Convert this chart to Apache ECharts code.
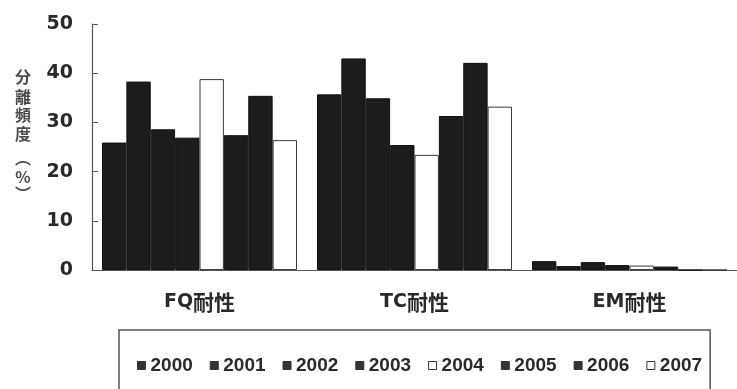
<!DOCTYPE html>
<html>
<head>
<meta charset="utf-8">
<script src="https://cdn.jsdelivr.net/npm/echarts@6/dist/echarts.min.js"></script>
<style>
  html, body { margin: 0; padding: 0; background: #fff; }
  #chart { width: 737px; height: 389px; }
</style>
</head>
<body>
<div id="chart"></div>
<script>
// Resistance categories (x axis)
const categories = ['FQ耐性', 'TC耐性', 'EM耐性'];
// Isolation frequency (%) per year, one value per category
const years = ['2000', '2001', '2002', '2003', '2004', '2005', '2006', '2007'];
const y2000 = [25.9, 35.7, 1.8];
const y2001 = [38.3, 43.0, 0.8];
const y2002 = [28.6, 34.9, 1.6];
const y2003 = [26.9, 25.4, 1.0];
const y2004 = [38.8, 23.4, 0.9];
const y2005 = [27.4, 31.3, 0.7];
const y2006 = [35.4, 42.1, 0];
const y2007 = [26.4, 33.2, 0];
const yearValues = [y2000, y2001, y2002, y2003, y2004, y2005, y2006, y2007];
// years drawn as hollow bars
const hollowYears = ['2004', '2007'];
const yTicks = [0, 10, 20, 30, 40, 50];
// vertical axis title, one glyph per line
const yTitleChars = ['分', '離', '頻', '度', '︵', '%', '︶'];

const NUM_FONT = '"DejaVu Sans", "Noto Sans CJK JP", sans-serif';
const LEG_FONT = '"Liberation Sans", Arial, sans-serif';
const CJK_FONT = '"Noto Sans CJK JP", sans-serif';
const DARK = '#1c1c1c';
const TEXT = '#2a2a2a';

const series = years.map((yr, i) => {
  const hollow = hollowYears.includes(yr);
  return {
    name: yr,
    type: 'bar',
    data: yearValues[i],
    barGap: '0%',
    barCategoryGap: '9.3%',
    itemStyle: {
      color: hollow ? '#ffffff' : DARK,
      borderColor: hollow ? '#3a3a3a' : '#111',
      borderWidth: 1
    }
  };
});

// y title glyph centres (px)
const yTitleCentres = [76.5, 96.5, 115, 133.5, 158, 177, 194];
const titleGraphics = yTitleChars.map((ch, i) => ({
  type: 'text',
  x: 23,
  y: yTitleCentres[i],
  style: {
    text: ch,
    fontFamily: CJK_FONT,
    fontSize: 16,
    fontWeight: 'bold',
    align: 'center',
    verticalAlign: 'middle',
    fill: '#4a4a4a'
  }
}));

const chart = echarts.init(document.getElementById('chart'), null, { renderer: 'canvas' });
chart.setOption({
  backgroundColor: '#ffffff',
  animation: false,
  grid: { left: 92, top: 24, width: 648, bottom: 119, containLabel: false },
  xAxis: {
    type: 'category',
    data: categories,
    axisLine: { lineStyle: { color: '#555', width: 1.2 } },
    axisTick: { inside: true, length: 4, lineStyle: { color: '#555' } },
    axisLabel: {
      margin: 22,
      formatter: v => `{a|${v.slice(0, 2)}}{b|${v.slice(2)}}`,
      rich: {
        a: { fontFamily: NUM_FONT, fontSize: 19, fontWeight: 'bold', color: TEXT },
        b: { fontFamily: CJK_FONT, fontSize: 21, fontWeight: 'bold', color: TEXT }
      }
    }
  },
  yAxis: {
    type: 'value',
    min: yTicks[0],
    max: yTicks[yTicks.length - 1],
    interval: 10,
    splitLine: { show: false },
    axisLine: { show: true, lineStyle: { color: '#555', width: 1.2 } },
    axisTick: { show: true, inside: true, length: 6, lineStyle: { color: '#555' } },
    axisLabel: {
      margin: 19,
      fontFamily: NUM_FONT,
      fontSize: 19,
      fontWeight: 'bold',
      color: TEXT
    }
  },
  legend: {
    data: years.map(yr => ({
      name: yr,
      icon: 'rect',
      itemStyle: hollowYears.includes(yr)
        ? { color: '#fff', borderColor: '#333', borderWidth: 1 }
        : { color: '#333', borderColor: '#333', borderWidth: 1 }
    })),
    left: 119,
    top: 330,
    width: 597,
    orient: 'horizontal',
    itemWidth: 8,
    itemHeight: 8,
    itemGap: 17,
    padding: [26, 8, 30, 18],
    borderColor: '#555',
    borderWidth: 1.5,
    textStyle: {
      fontFamily: LEG_FONT,
      fontSize: 19,
      fontWeight: 'bold',
      color: TEXT
    }
  },
  graphic: titleGraphics,
  series: series
});
</script>
</body>
</html>
